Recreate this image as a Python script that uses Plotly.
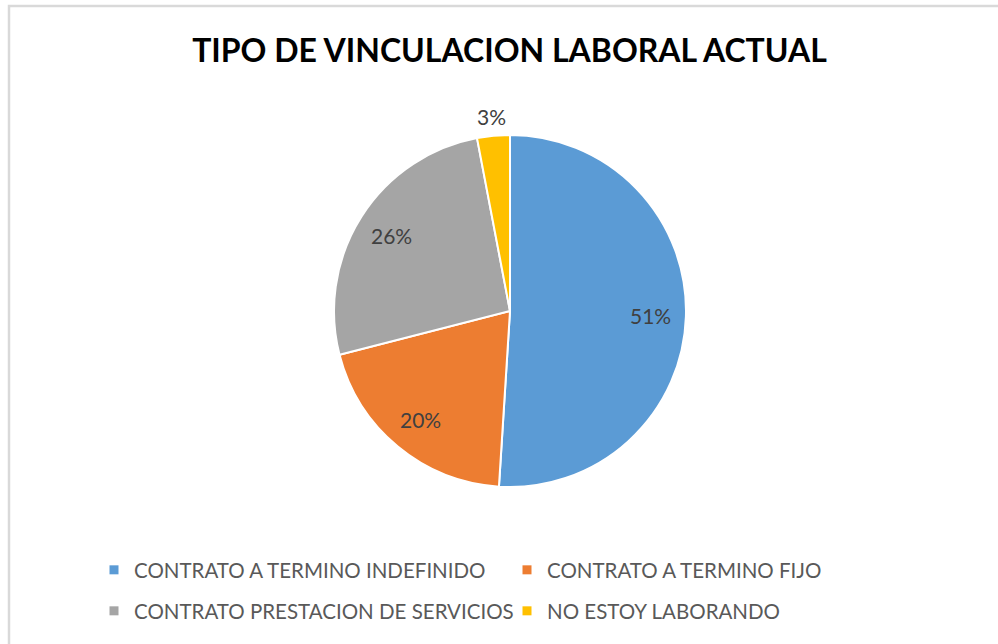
import math
import plotly.graph_objects as go

categories = [
    "CONTRATO A TERMINO INDEFINIDO",
    "CONTRATO A TERMINO FIJO",
    "CONTRATO PRESTACION DE SERVICIOS",
    "NO ESTOY LABORANDO",
]
values = [51, 20, 26, 3]
colors = ["#5B9BD5", "#ED7D31", "#A5A5A5", "#FFC000"]
label_outside = [False, False, False, True]
legend_rows = ["legend", "legend", "legend2", "legend2"]

W, H = 998, 644
cx, cy, R = 510, 311, 176

fig = go.Figure()
fig.add_trace(
    go.Pie(
        labels=categories,
        values=values,
        sort=False,
        direction="clockwise",
        rotation=0,
        marker=dict(colors=colors, line=dict(color="white", width=2)),
        textinfo="none",
        domain=dict(x=[(cx - R) / W, (cx + R) / W], y=[1 - (cy + R) / H, 1 - (cy - R) / H]),
        showlegend=False,
        hoverinfo="label+percent",
    )
)

# legend entries (two rows, like the original)
for name, col, lg in zip(categories, colors, legend_rows):
    fig.add_trace(
        go.Scatter(
            x=[None], y=[None], mode="markers", name=name,
            marker=dict(symbol="square", size=9, color=col),
            legend=lg, showlegend=True, hoverinfo="skip",
        )
    )

# percentage labels positioned from the data (slice mid-angles)
total = sum(values)
annotations = []
cum = 0
for v, outside in zip(values, label_outside):
    mid = (cum + v / 2) / total * 2 * math.pi
    cum += v
    r = R * (1.11 if outside else 0.8)
    px = cx + r * math.sin(mid)
    py = cy - r * math.cos(mid)
    annotations.append(
        dict(
            x=px / W, y=1 - py / H, xref="paper", yref="paper",
            text=f"{round(v / total * 100)}%", showarrow=False,
            xanchor="center", yanchor="middle",
            font=dict(family="Lato", size=21, color="#404040"),
        )
    )

legend_common = dict(
    orientation="h",
    x=94 / W,
    xanchor="left",
    yanchor="middle",
    entrywidth=368,
    entrywidthmode="pixels",
    font=dict(family="Lato", size=20.5, color="#595959"),
    itemclick=False,
    bgcolor="rgba(0,0,0,0)",
)

fig.update_layout(
    width=W,
    height=H,
    margin=dict(l=0, r=0, t=0, b=0),
    paper_bgcolor="white",
    plot_bgcolor="white",
    xaxis=dict(visible=False),
    yaxis=dict(visible=False),
    title=dict(
        text="<b>TIPO DE VINCULACION LABORAL ACTUAL</b>",
        x=509.5 / W,
        xanchor="center",
        y=1 - 51 / H,
        yanchor="middle",
        font=dict(family="Lato", size=32, color="#000000"),
    ),
    legend=dict(legend_common, y=1 - 570 / H),
    legend2=dict(legend_common, y=1 - 611 / H),
    annotations=annotations,
    shapes=[
        dict(
            type="rect",
            xref="paper",
            yref="paper",
            x0=9 / W,
            y0=1 - 6 / H,
            x1=1.05,
            y1=-0.05,
            line=dict(color="#D9D9D9", width=2.5),
            layer="above",
        )
    ],
)

fig.write_html(
    "out.html",
    config={"displayModeBar": False},
    post_script="document.body.style.margin='0';",
)
